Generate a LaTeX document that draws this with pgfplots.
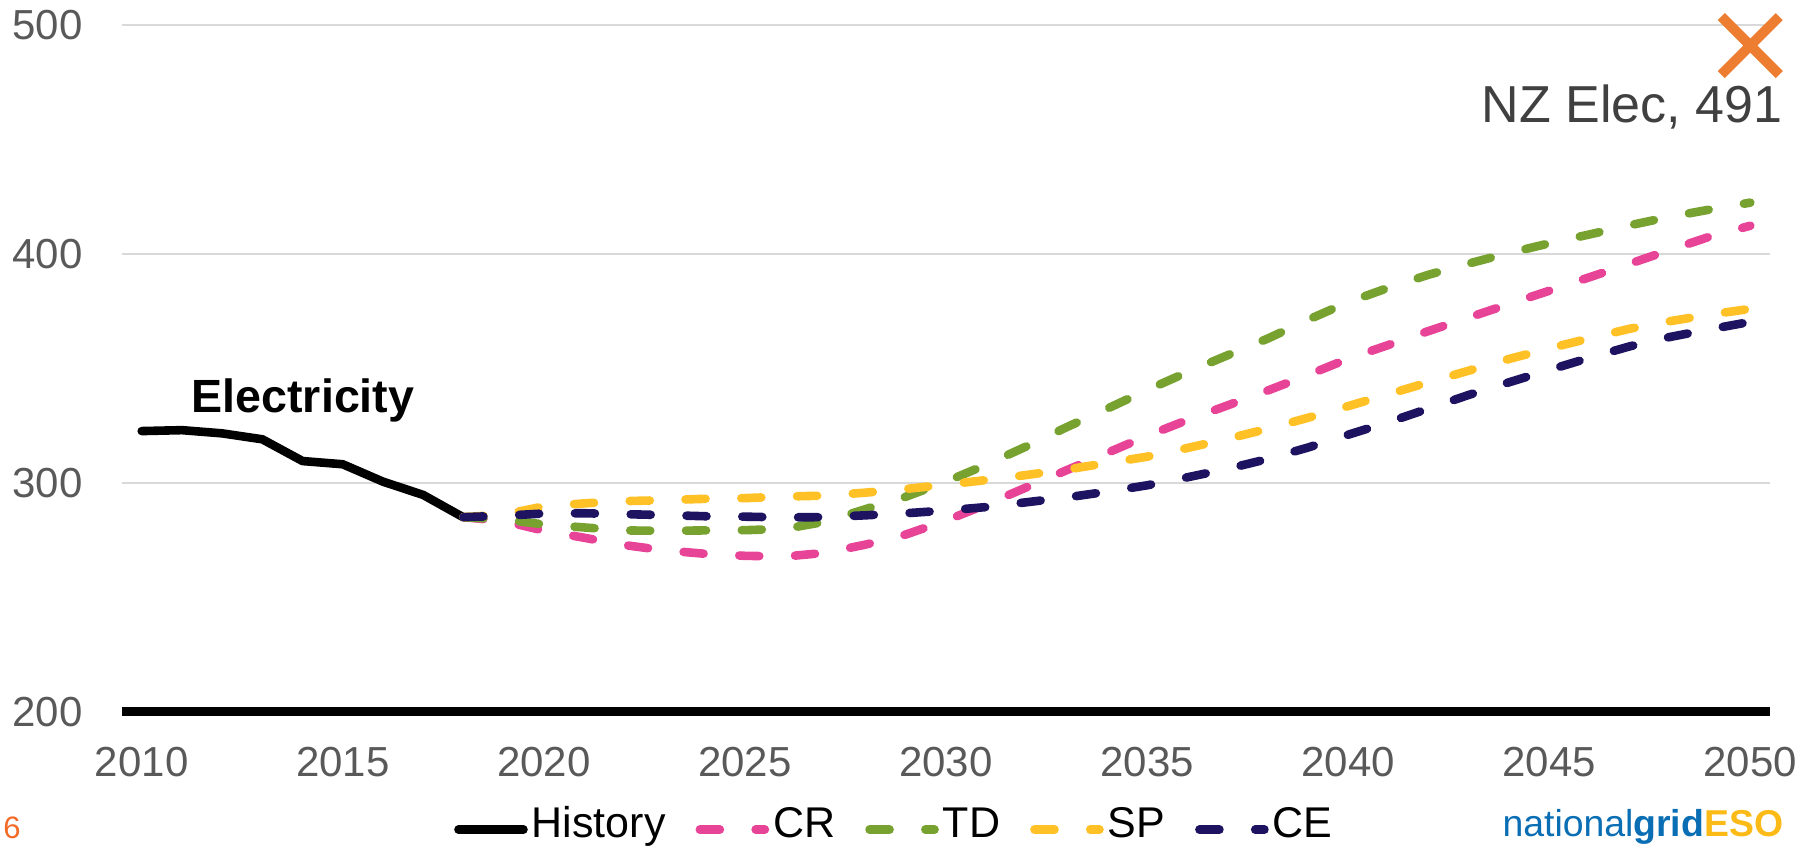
\documentclass[border=0pt]{standalone}
\usepackage{fontspec}
\setmainfont{Liberation Sans}
\usepackage{pgfplots}
\pgfplotsset{compat=1.18}
\usepackage{pgfplotstable}

\definecolor{crpink}{HTML}{E84497}
\definecolor{tdgreen}{HTML}{77A22F}
\definecolor{spyellow}{HTML}{FFC125}
\definecolor{cenavy}{HTML}{1E1360}
\definecolor{nzorange}{HTML}{ED7D31}
\definecolor{ticktext}{HTML}{595959}
\definecolor{gridgray}{HTML}{D9D9D9}
\definecolor{labeltext}{HTML}{404040}
\definecolor{pageorange}{HTML}{F26A25}
\definecolor{ngblue}{HTML}{0A6EB4}
\definecolor{esoyellow}{HTML}{FBBA16}

\pgfplotstableread{
year value
2010 322.6
2011 323.0
2012 321.6
2013 319.0
2014 309.5
2015 308.1
2016 300.5
2017 294.7
2018 284.9
}\history

\pgfplotstableread{
year CR TD SP CE
2018 285.0 285.0 285.0 285.0
2019 283.3 284.0 286.1 285.6
2020 279.1 281.8 289.7 286.6
2021 276.0 280.5 291.0 286.7
2022 272.8 279.2 292.0 286.3
2023 270.5 279.0 292.4 285.9
2024 269.0 279.2 293.0 285.4
2025 268.1 279.3 293.3 285.2
2026 267.8 279.9 294.0 284.9
2027 269.4 283.0 294.4 285.0
2028 273.0 288.5 295.7 285.8
2029 277.4 293.9 297.3 286.7
2030 283.5 300.5 299.2 287.9
2031 290.5 307.9 301.2 289.4
2032 298.0 315.9 303.4 291.5
2033 305.5 324.3 305.8 293.6
2034 313.0 332.3 308.6 296.1
2035 320.5 340.5 311.4 298.9
2036 327.4 348.3 315.2 302.4
2037 333.8 355.7 319.2 306.1
2038 340.3 363.0 323.6 310.4
2039 347.1 371.2 328.4 315.4
2040 354.2 378.9 333.5 321.0
2041 360.2 385.2 338.7 326.5
2042 366.3 390.9 343.9 332.4
2043 372.2 395.8 349.0 338.4
2044 378.1 400.4 354.1 343.9
2045 383.9 404.6 358.7 349.3
2046 389.8 408.5 363.1 354.6
2047 395.7 412.5 367.3 359.6
2048 401.7 416.2 370.6 363.7
2049 407.6 419.4 373.5 367.1
2050 412.3 422.4 376.0 370.3
}\scen

\begin{document}
\begin{tikzpicture}
\path[use as bounding box] (-60.8pt,-67.65pt) rectangle (845.2pt,355.85pt);
\begin{axis}[
  at={(0pt,0pt)}, anchor=south west,
  scale only axis, width=824.4pt, height=343.35pt,
  xmin=2009.5, xmax=2050.5, ymin=200, ymax=500,
  xtick={2010,2015,...,2050}, ytick={200,300,400,500},
  axis line style={draw=none},
  tick style={draw=none},
  ymajorgrids, grid style={gridgray, line width=1pt},
  /pgf/number format/1000 sep={},
  /pgf/number format/assume math mode=true,
  tick label style={font=\fontsize{21}{21}\selectfont, text=ticktext, inner sep=0pt},
  yticklabel style={anchor=east, xshift=-19.3pt},
  xticklabel style={anchor=north, yshift=-17.5pt},
  clip=false,
  legend columns=5,
  legend style={
    at={(0.2017,-0.1749)}, anchor=west,
    draw=none, fill=none, inner sep=0pt, outer sep=0pt,
    font=\fontsize{21.5}{21.5}\selectfont,
    /tikz/every odd column/.append style={column sep=2pt},
    /tikz/every even column/.append style={column sep=15pt},
    nodes={inner sep=0pt, text height=0.73em, text depth=0.21em},
  },
  legend image code/.code={\draw[#1, line cap=round] (0pt,1.1pt) -- (32.5pt,1.1pt);},
]
\addplot[black, line width=4.3pt, line join=round, line cap=round] table[x=year,y=value]{\history};
\addlegendentry{History}
\addplot[crpink, line width=4.3pt, dash pattern=on 10pt off 17.9pt, line cap=round, line join=round] table[x=year,y=CR]{\scen};
\addlegendentry{CR}
\addplot[tdgreen, line width=4.3pt, dash pattern=on 10pt off 17.9pt, line cap=round, line join=round] table[x=year,y=TD]{\scen};
\addlegendentry{TD}
\addplot[spyellow, line width=4.3pt, dash pattern=on 10pt off 17.9pt, line cap=round, line join=round] table[x=year,y=SP]{\scen};
\addlegendentry{SP}
\addplot[cenavy, line width=4.3pt, dash pattern=on 10pt off 17.9pt, line cap=round, line join=round] table[x=year,y=CE]{\scen};
\addlegendentry{CE}
\addplot[only marks, mark=x, mark size=20.5pt, mark options={draw=nzorange, line width=5pt, line cap=butt, solid}, forget plot] coordinates {(2050,491)};
\draw[black, line width=4.3pt] (axis cs:2009.5,200) -- (axis cs:2050.5,200);
\node[anchor=base east, inner sep=0pt, text=labeltext, font=\fontsize{26}{26}\selectfont] at (axis cs:2050.81,457.3) {NZ Elec, 491};
\node[anchor=base west, inner sep=0pt, font=\bfseries\fontsize{23.3}{23.3}\selectfont] at (axis cs:2011.23,330.6) {Electricity};
\node[anchor=base west, inner sep=0pt, text=pageorange, font=\fontsize{15.5}{15.5}\selectfont] at (axis cs:2006.55,144.8) {6};
\node[anchor=base west, inner sep=0pt, font=\fontsize{18.7}{18.7}\selectfont] at (axis cs:2043.83,145.4) {\textcolor{ngblue}{national\textbf{grid}}\textcolor{esoyellow}{\textbf{ESO}}};
\end{axis}
\end{tikzpicture}
\end{document}
